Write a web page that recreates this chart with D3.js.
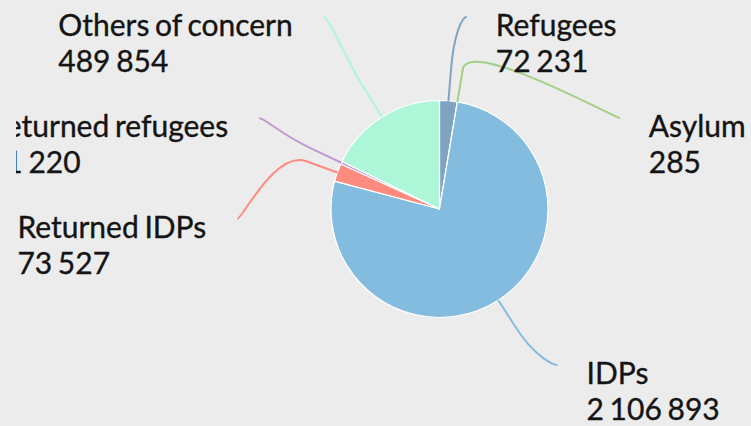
<!DOCTYPE html>
<html>
<head>
<meta charset="utf-8">
<script src="https://cdn.jsdelivr.net/npm/d3@7"></script>
<style>
html, body { margin: 0; padding: 0; background: #ececec; overflow: hidden; }
</style>
</head>
<body>
<div id="chart"></div>
<script>
var categories = ['Refugees', 'Asylum', 'IDPs', 'Returned IDPs', 'Returned refugees', 'Others of concern'];
var values = [72231, 285, 2106893, 73527, 11220, 489854];
var colors = ['#7fa4c2', '#a3cf85', '#84bce0', '#ff8b80', '#c29ad0', '#aef6d8'];

var width = 751, height = 426;
var cx = 439.5, cy = 209, radius = 108.5;
var labelDistance = 89, padding = 5, edgePad = 6, breakOffset = 33;
var labelTop = 17, labelBottom = 365, labelStep = 101;
var fontSize = 30, lineGap = 36, clipLeft = 16;

var fmt = d3.formatLocale({decimal: '.', thousands: ' ', grouping: [3], currency: ['', '']}).format(',d');

var svg = d3.select('#chart').append('svg')
    .attr('width', width)
    .attr('height', height)
    .attr('viewBox', '0 0 ' + width + ' ' + height);

svg.append('rect')
    .attr('width', width)
    .attr('height', height)
    .attr('fill', '#ececec');

svg.append('clipPath')
    .attr('id', 'label-clip')
    .append('rect')
    .attr('x', clipLeft)
    .attr('y', 0)
    .attr('width', width - clipLeft)
    .attr('height', height);

var pie = d3.pie().sort(null).value(function(d) { return d; });
var arcs = pie(values);
var arc = d3.arc().innerRadius(0).outerRadius(radius);

svg.append('g')
    .attr('transform', 'translate(' + cx + ',' + cy + ')')
    .selectAll('path')
    .data(arcs)
    .enter()
    .append('path')
    .attr('d', arc)
    .attr('fill', function(d, i) { return colors[i]; })
    .attr('stroke', '#ffffff')
    .attr('stroke-width', 1.2)
    .attr('stroke-linejoin', 'round');

// label layout, roughly what highcharts does for pie data labels
var R = radius + labelDistance;
var labels = arcs.map(function(d, i) {
    var a = (d.startAngle + d.endAngle) / 2;
    return {
        i: i,
        a: a,
        left: Math.sin(a) < 0,
        natural: cy - Math.cos(a) * R
    };
});

function distribute(items) {
    items.sort(function(p, q) { return p.natural - q.natural; });
    var clusters = items.map(function(it) { return {items: [it]}; });
    function place(c) {
        var n = c.items.length;
        var mean = d3.mean(c.items, function(it) { return it.natural; });
        c.start = Math.max(labelTop, Math.min(labelBottom - (n - 1) * labelStep, mean - (n - 1) * labelStep / 2));
    }
    clusters.forEach(place);
    var merged = true;
    while (merged) {
        merged = false;
        for (var k = 1; k < clusters.length; k++) {
            var p = clusters[k - 1], c = clusters[k];
            if (p.start + p.items.length * labelStep > c.start) {
                p.items = p.items.concat(c.items);
                place(p);
                clusters.splice(k, 1);
                merged = true;
                break;
            }
        }
    }
    clusters.forEach(function(c) {
        c.items.forEach(function(it, j) { it.y = c.start + j * labelStep; });
    });
}

distribute(labels.filter(function(l) { return l.left; }));
distribute(labels.filter(function(l) { return !l.left; }));

labels.forEach(function(l) {
    var atEdge = l.y <= labelTop + 2 || l.y >= labelBottom - 2;
    var yy = atEdge ? l.natural : l.y;
    var s = Math.max(-1, Math.min(1, (yy - cy) / R));
    var dx = Math.cos(Math.asin(s)) * R + padding + (atEdge ? edgePad : 0);
    l.x = cx + (l.left ? -dx : dx);
});

var conn = svg.append('g');
labels.forEach(function(l) {
    var ex = cx + Math.sin(l.a) * radius, ey = cy - Math.cos(l.a) * radius;
    var bx = cx + Math.sin(l.a) * (radius + breakOffset), by = cy - Math.cos(l.a) * (radius + breakOffset);
    var p = d3.path();
    p.moveTo(l.x, l.y);
    p.bezierCurveTo(l.x + (l.left ? 5 : -5), l.y, 2 * bx - ex, 2 * by - ey, bx, by);
    p.lineTo(ex, ey);
    conn.append('path')
        .attr('d', p.toString())
        .attr('fill', 'none')
        .attr('stroke', colors[l.i])
        .attr('stroke-width', 2);
});

var txt = svg.append('g')
    .attr('clip-path', 'url(#label-clip)')
    .attr('font-family', 'Lato, sans-serif')
    .attr('font-size', fontSize)
    .attr('word-spacing', -2)
    .attr('fill', '#141414')
    .attr('stroke', '#141414')
    .attr('stroke-width', 0.35);

labels.forEach(function(l) {
    var t = txt.append('text');
    var name = t.append('tspan').text(categories[l.i]);
    var val = t.append('tspan').text(fmt(values[l.i]));
    var w = Math.max(name.node().getComputedTextLength(), val.node().getComputedTextLength());
    var tx = l.left ? l.x - 31 - w : l.x + 29;
    name.attr('x', tx).attr('y', l.y + 19);
    val.attr('x', tx).attr('y', l.y + 19 + lineGap);
});
</script>
</body>
</html>
